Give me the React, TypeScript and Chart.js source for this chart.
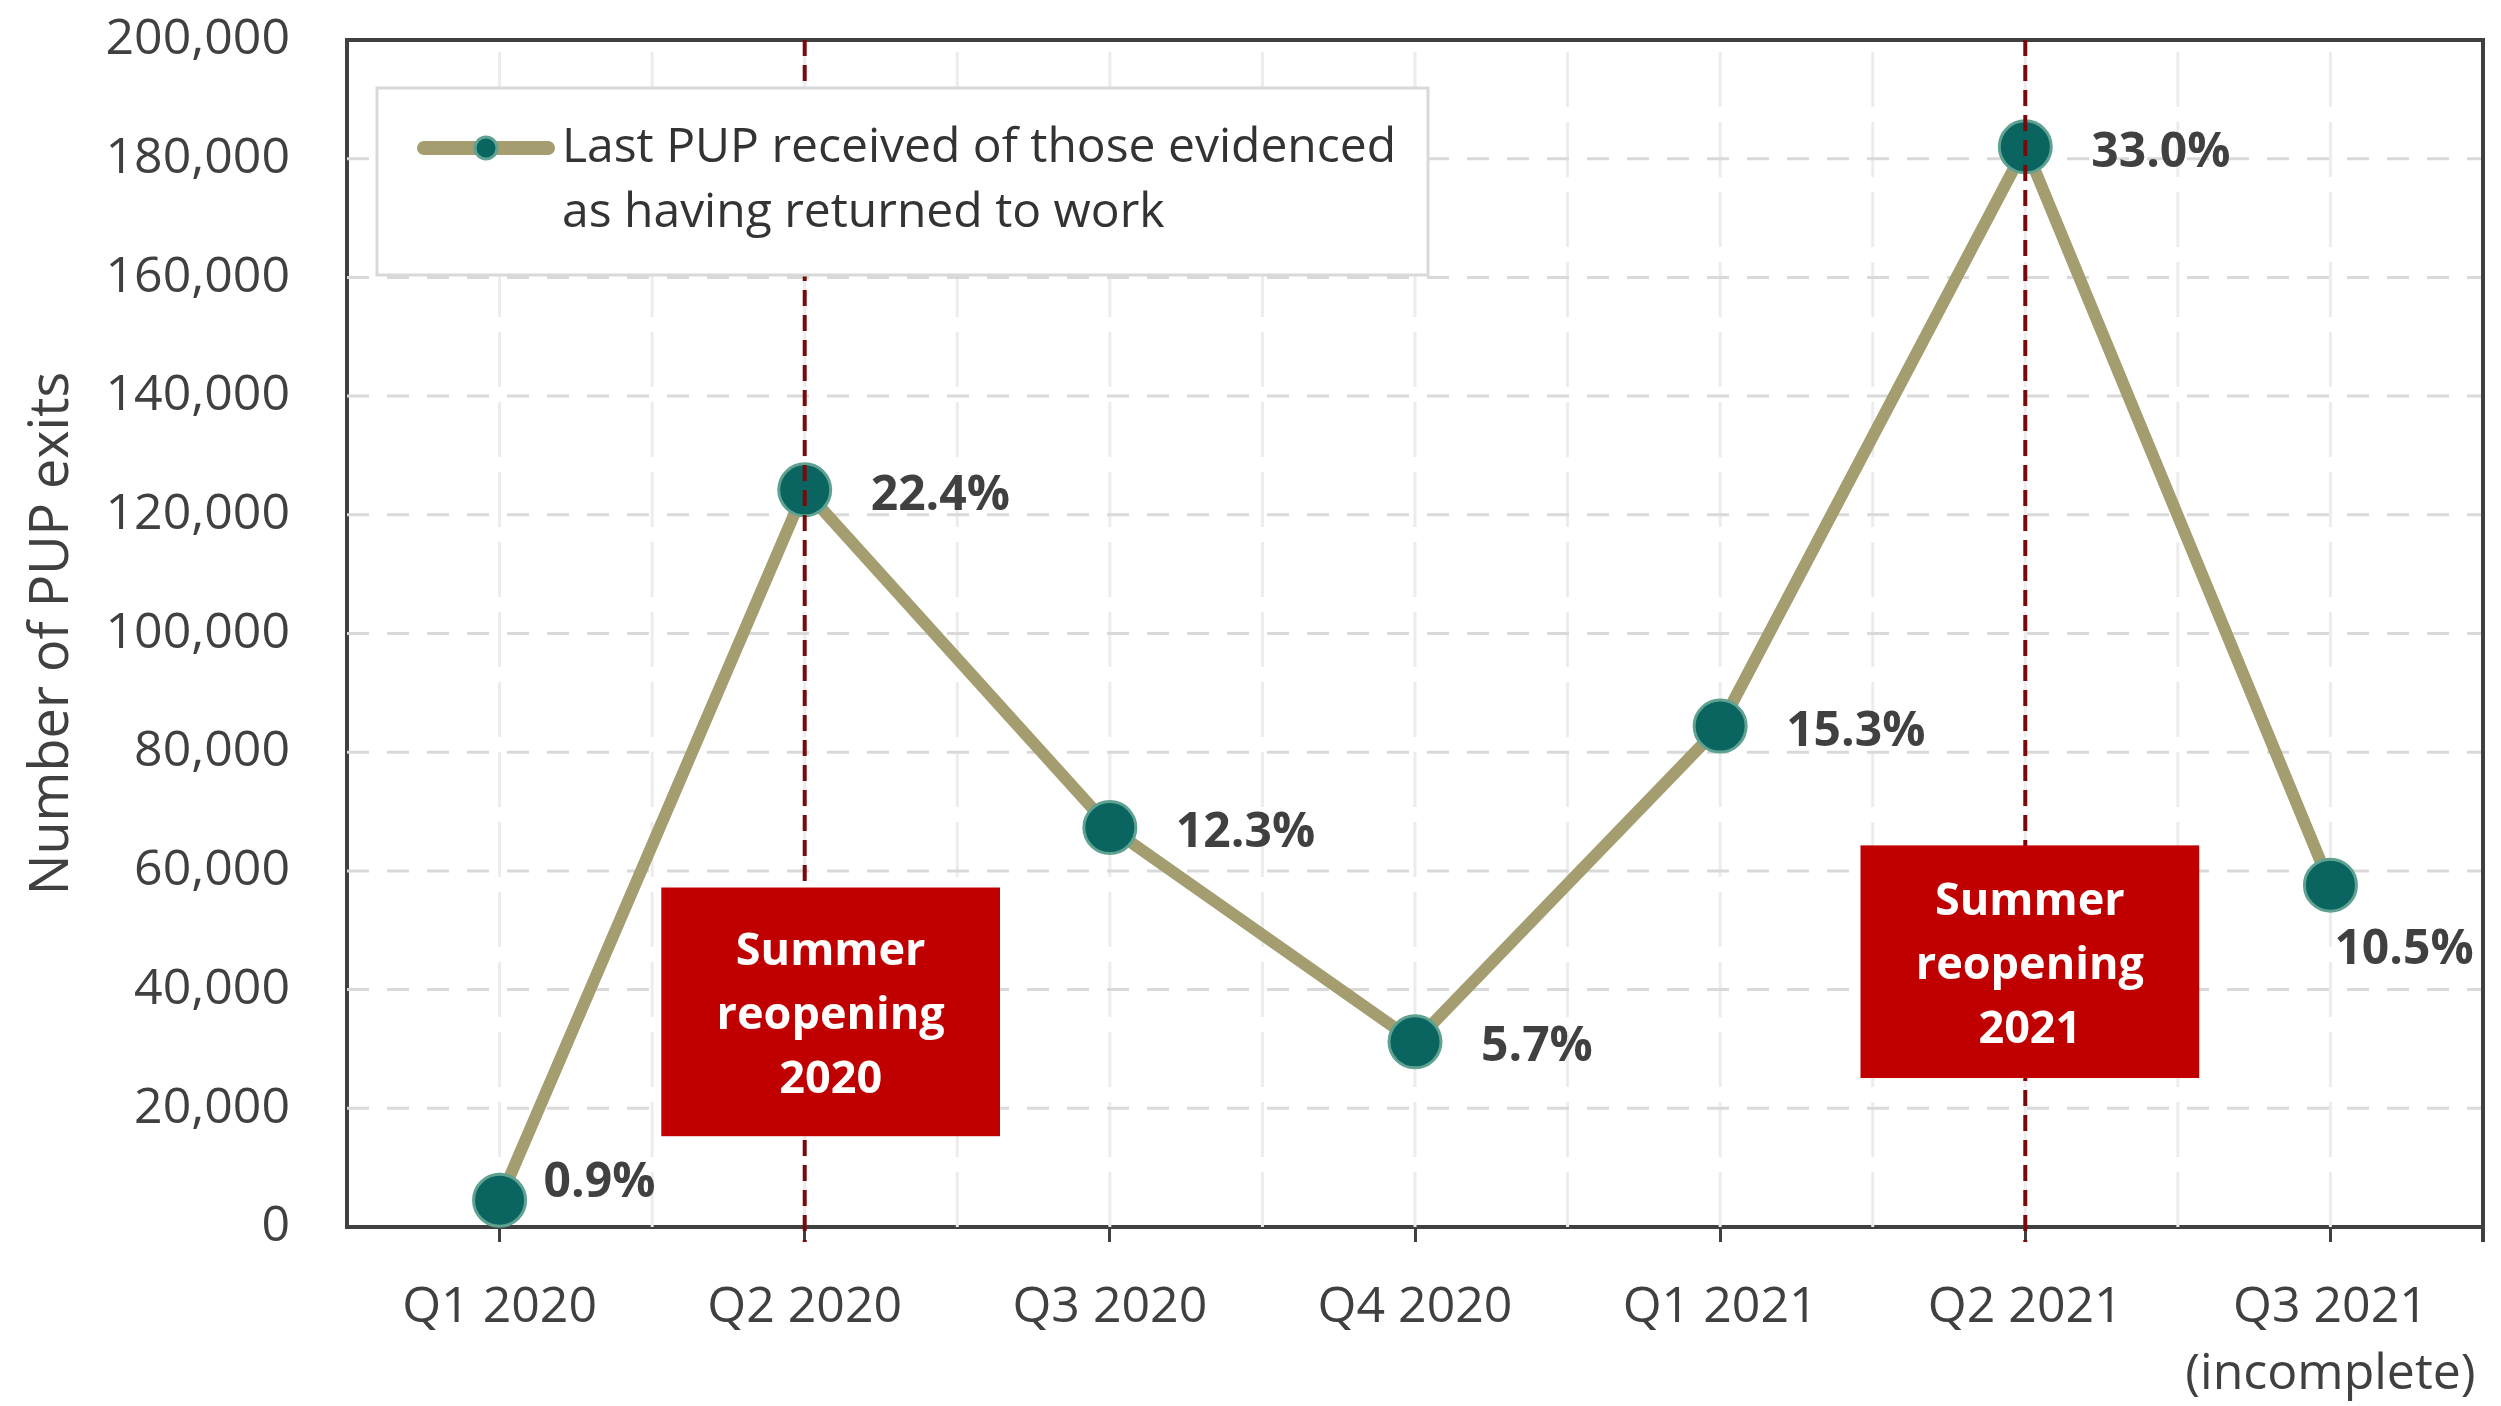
import React, { useEffect, useRef } from "react";
import { Chart, registerables } from "chart.js";

Chart.register(...registerables);

// ---------- data ----------
const categories: (string | string[])[] = [
  "Q1 2020",
  "Q2 2020",
  "Q3 2020",
  "Q4 2020",
  "Q1 2021",
  "Q2 2021",
  ["Q3 2021", "(incomplete)"],
];
const pupExits = [4500, 124200, 67300, 31200, 84400, 182000, 57600];
const shareLabels = ["0.9%", "22.4%", "12.3%", "5.7%", "15.3%", "33.0%", "10.5%"];
const seriesNameLines = ["Last PUP received of those evidenced", "as having returned to work"];
const yAxisTitle = "Number of PUP exits";
const yMin = 0;
const yMax = 200000;
const yStep = 20000;
const reopeningCategories = [1, 5]; // indexes of Q2 2020 and Q2 2021
const reopeningBoxText = [
  ["Summer", "reopening", "2020"],
  ["Summer", "reopening", "2021"],
];
// box extents in data units (category index, value)
const reopeningBoxX = [
  [0.53, 1.64],
  [4.46, 5.57],
];
const reopeningBoxY = [
  [15300, 57200],
  [25100, 64300],
];

// ---------- styles ----------
const FONT = '"Open Sans", "DejaVu Sans", sans-serif';
const TEXT = "#404040";
const LINE_COLOR = "#A39D6F";
const POINT_FILL = "#0A6560";
const POINT_RING = "#5FA291";
const RED_BOX = "#C00000";
const RED_LINE = "#7A0A0A";
const labelPlacement = ["upperRight", "right", "right", "right", "right", "right", "below"];
const labelOffsets: Record<string, [number, number]> = {
  right: [66, 6],
  upperRight: [44, -17],
  below: [4, 65],
};

const decorPlugin = {
  id: "decor",
  beforeDatasetsDraw(chart: any) {
    const { ctx, chartArea: a, scales } = chart;
    const x = scales.x;
    const y = scales.y;
    ctx.save();
    // vertical grid (every half category)
    ctx.strokeStyle = "#ECECEC";
    ctx.lineWidth = 3;
    ctx.setLineDash([55, 15]);
    for (let k = 0; k <= (categories.length - 1) * 2; k++) {
      const px = x.getPixelForValue(k / 2);
      ctx.beginPath();
      ctx.moveTo(px, a.bottom);
      ctx.lineTo(px, a.top);
      ctx.stroke();
    }
    // horizontal grid
    ctx.strokeStyle = "#D9D9D9";
    ctx.setLineDash([22, 18]);
    for (let v = yMin + yStep; v < yMax; v += yStep) {
      const py = y.getPixelForValue(v);
      ctx.beginPath();
      ctx.moveTo(a.left, py);
      ctx.lineTo(a.right, py);
      ctx.stroke();
    }
    ctx.setLineDash([]);
    // top and right frame
    ctx.strokeStyle = TEXT;
    ctx.lineWidth = 4;
    ctx.beginPath();
    ctx.moveTo(a.left, a.top);
    ctx.lineTo(a.right, a.top);
    ctx.lineTo(a.right, a.bottom + 15);
    ctx.stroke();
    ctx.restore();
  },
  afterDatasetsDraw(chart: any) {
    const { ctx, chartArea: a, scales } = chart;
    const x = scales.x;
    const y = scales.y;
    ctx.save();
    // reopening dashed lines
    ctx.strokeStyle = RED_LINE;
    ctx.lineWidth = 4;
    ctx.setLineDash([16, 9]);
    reopeningCategories.forEach((ci) => {
      const px = x.getPixelForValue(ci);
      ctx.beginPath();
      ctx.moveTo(px, a.top);
      ctx.lineTo(px, a.bottom + 15);
      ctx.stroke();
    });
    ctx.setLineDash([]);

    // data labels
    const meta = chart.getDatasetMeta(0);
    ctx.font = `bold 48px ${FONT}`;
    ctx.fillStyle = TEXT;
    ctx.textAlign = "left";
    ctx.textBaseline = "middle";
    meta.data.forEach((pt: any, i: number) => {
      const [dx, dy] = labelOffsets[labelPlacement[i]];
      ctx.fillText(shareLabels[i], pt.x + dx, pt.y + dy);
    });

    // reopening boxes
    reopeningBoxText.forEach((lines, bi) => {
      const x1 = x.getPixelForValue(reopeningBoxX[bi][0]);
      const x2 = x.getPixelForValue(reopeningBoxX[bi][1]);
      const y1 = y.getPixelForValue(reopeningBoxY[bi][1]);
      const y2 = y.getPixelForValue(reopeningBoxY[bi][0]);
      ctx.fillStyle = RED_BOX;
      ctx.fillRect(x1, y1, x2 - x1, y2 - y1);
      ctx.fillStyle = "#FFFFFF";
      ctx.font = `bold 45px ${FONT}`;
      ctx.textAlign = "center";
      ctx.textBaseline = "middle";
      const cx = (x1 + x2) / 2;
      const cy = (y1 + y2) / 2 + 4;
      const lh = 64;
      lines.forEach((t, li) => {
        ctx.fillText(t, cx, cy + (li - (lines.length - 1) / 2) * lh);
      });
    });

    // legend
    const lx = 377, ly = 88, lw = 1051, lhgt = 187;
    ctx.fillStyle = "#FFFFFF";
    ctx.fillRect(lx, ly, lw, lhgt);
    ctx.strokeStyle = "#D9D9D9";
    ctx.lineWidth = 3;
    ctx.strokeRect(lx, ly, lw, lhgt);
    ctx.strokeStyle = LINE_COLOR;
    ctx.lineWidth = 14;
    ctx.lineCap = "round";
    ctx.beginPath();
    ctx.moveTo(424, 148);
    ctx.lineTo(548, 148);
    ctx.stroke();
    ctx.lineCap = "butt";
    ctx.beginPath();
    ctx.arc(486, 148, 11, 0, Math.PI * 2);
    ctx.fillStyle = POINT_FILL;
    ctx.fill();
    ctx.lineWidth = 3;
    ctx.strokeStyle = POINT_RING;
    ctx.stroke();
    ctx.fillStyle = "#333333";
    ctx.font = `48px ${FONT}`;
    ctx.textAlign = "left";
    ctx.textBaseline = "middle";
    seriesNameLines.forEach((t, i) => ctx.fillText(t, 562, 148 + i * 65));
    ctx.restore();
  },
};

export default function App() {
  const ref = useRef<HTMLCanvasElement | null>(null);
  useEffect(() => {
    if (!ref.current) return;
    const chart = new Chart(ref.current, {
      type: "line",
      data: {
        labels: categories as any,
        datasets: [
          {
            label: seriesNameLines.join(" "),
            data: pupExits,
            borderColor: LINE_COLOR,
            borderWidth: 12,
            pointRadius: 26,
            pointHoverRadius: 26,
            pointBackgroundColor: POINT_FILL,
            pointBorderColor: POINT_RING,
            pointBorderWidth: 3,
            tension: 0,
            clip: false as any,
          },
        ],
      },
      options: {
        responsive: false,
        animation: false,
        events: [],
        layout: { autoPadding: false, padding: { top: 40, right: 18, bottom: 0, left: 0 } } as any,
        plugins: {
          legend: { display: false },
          tooltip: { enabled: false },
        },
        scales: {
          x: {
            type: "category",
            offset: true,
            grid: {
              display: true,
              drawOnChartArea: false,
              drawTicks: true,
              tickLength: 15,
              tickWidth: 3,
              tickColor: TEXT,
              color: TEXT,
              lineWidth: 3,
            },
            border: { display: true, color: TEXT, width: 4 },
            ticks: {
              autoSkip: false,
              maxRotation: 0,
              minRotation: 0,
              padding: 32,
              color: TEXT,
              font: { family: FONT, size: 50, lineHeight: 1.34 },
            },
            afterFit: (s: any) => {
              s.height = 179;
              s.paddingLeft = 0;
              s.paddingRight = 0;
              s.paddingTop = 0;
              s.paddingBottom = 0;
            },
          },
          y: {
            min: yMin,
            max: yMax,
            grid: { display: true, drawOnChartArea: false, drawTicks: false },
            border: { display: true, color: TEXT, width: 4 },
            ticks: {
              stepSize: yStep,
              padding: 57,
              color: TEXT,
              font: { family: FONT, size: 50 },
              callback: (v: any) => Number(v).toLocaleString("en-US"),
            },
            title: {
              display: true,
              text: yAxisTitle,
              color: TEXT,
              font: { family: FONT, size: 54 },
              padding: { top: 20, bottom: 0 },
            },
            afterFit: (s: any) => {
              s.width = 347;
              s.paddingLeft = 0;
              s.paddingRight = 0;
              s.paddingTop = 0;
              s.paddingBottom = 0;
            },
          },
        },
      },
      plugins: [decorPlugin],
    });
    return () => chart.destroy();
  }, []);
  return (
    <div style={{ position: "fixed", left: 0, top: 0, width: 2501, height: 1406, background: "#FFFFFF" }}>
      <canvas ref={ref} width={2501} height={1406} style={{ width: 2501, height: 1406, display: "block" }} />
    </div>
  );
}
